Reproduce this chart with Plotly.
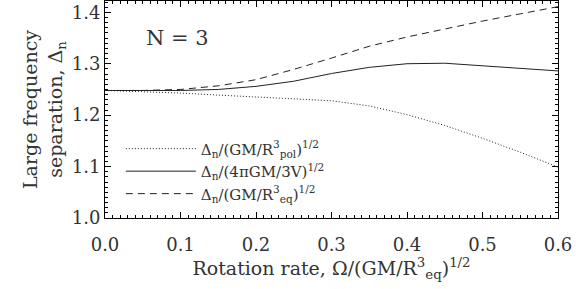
import plotly.graph_objects as go

omega = [0.0, 0.05, 0.10, 0.15, 0.20, 0.25, 0.30, 0.35, 0.40, 0.45, 0.50, 0.55, 0.60]
delta_pol = [1.248, 1.246, 1.243, 1.239, 1.235, 1.232, 1.228, 1.218, 1.201, 1.180, 1.155, 1.128, 1.099]
delta_mean = [1.248, 1.248, 1.248, 1.250, 1.256, 1.266, 1.281, 1.293, 1.300, 1.301, 1.296, 1.291, 1.286]
delta_eq = [1.248, 1.248, 1.250, 1.257, 1.269, 1.289, 1.311, 1.334, 1.352, 1.368, 1.383, 1.397, 1.411]

names = [
    "Δ<sub>n</sub>/(GM/R<sup>3</sup><sub>pol</sub>)<sup>1/2</sup>",
    "Δ<sub>n</sub>/(4πGM/3V)<sup>1/2</sup>",
    "Δ<sub>n</sub>/(GM/R<sup>3</sup><sub>eq</sub>)<sup>1/2</sup>",
]
dashes = ["1px,2px", "solid", "7px,5px"]
series = [delta_pol, delta_mean, delta_eq]

FONT = "DejaVu Serif"
fig = go.Figure()
for name, ys, dash in zip(names, series, dashes):
    fig.add_trace(go.Scatter(x=omega, y=ys, mode="lines", name=name,
                             line=dict(color="#222222", width=1, dash=dash)))

axis_common = dict(showline=True, linecolor="black", linewidth=1, mirror="allticks",
                   ticks="inside", ticklen=6, tickcolor="black", showgrid=False,
                   zeroline=False, tickfont=dict(family=FONT, size=18, color="#333"))

fig.update_xaxes(range=[0, 0.6], dtick=0.1, tickformat=".1f",
                 minor=dict(dtick=0.01, ticks="inside", ticklen=3, tickcolor="black"),
                 ticklabelstandoff=10,
                 title=dict(text="Rotation rate, Ω/(GM/R<sup>3</sup><sub>eq</sub>)<sup>1/2</sup>",
                            font=dict(family=FONT, size=19, color="#333"), standoff=5),
                 **axis_common)
fig.update_yaxes(range=[1.0, 1.422], dtick=0.1, tickformat=".1f",
                 minor=dict(dtick=0.01, ticks="inside", ticklen=3, tickcolor="black"),
                 ticklabelstandoff=0,
                 title=dict(text="Large frequency<br>separation, Δ<sub>n</sub>",
                            font=dict(family=FONT, size=19, color="#333"), standoff=4),
                 **axis_common)

fig.add_annotation(text="N = 3", x=0.16, y=0.83, xref="paper", yref="paper",
                   xanchor="center", yanchor="middle",
                   showarrow=False, font=dict(family=FONT, size=21, color="#333"))

fig.update_layout(
    width=576, height=289,
    margin=dict(l=105, r=18, t=1, b=71),
    paper_bgcolor="white", plot_bgcolor="white",
    showlegend=True,
    legend=dict(x=0.035, y=0.035, xanchor="left", yanchor="bottom",
                bgcolor="rgba(0,0,0,0)", itemwidth=70, tracegroupgap=0,
                font=dict(family=FONT, size=15, color="#333")),
)
fig.write_html("out.html", config={"displayModeBar": False},
               post_script="document.body.style.margin='0';")
